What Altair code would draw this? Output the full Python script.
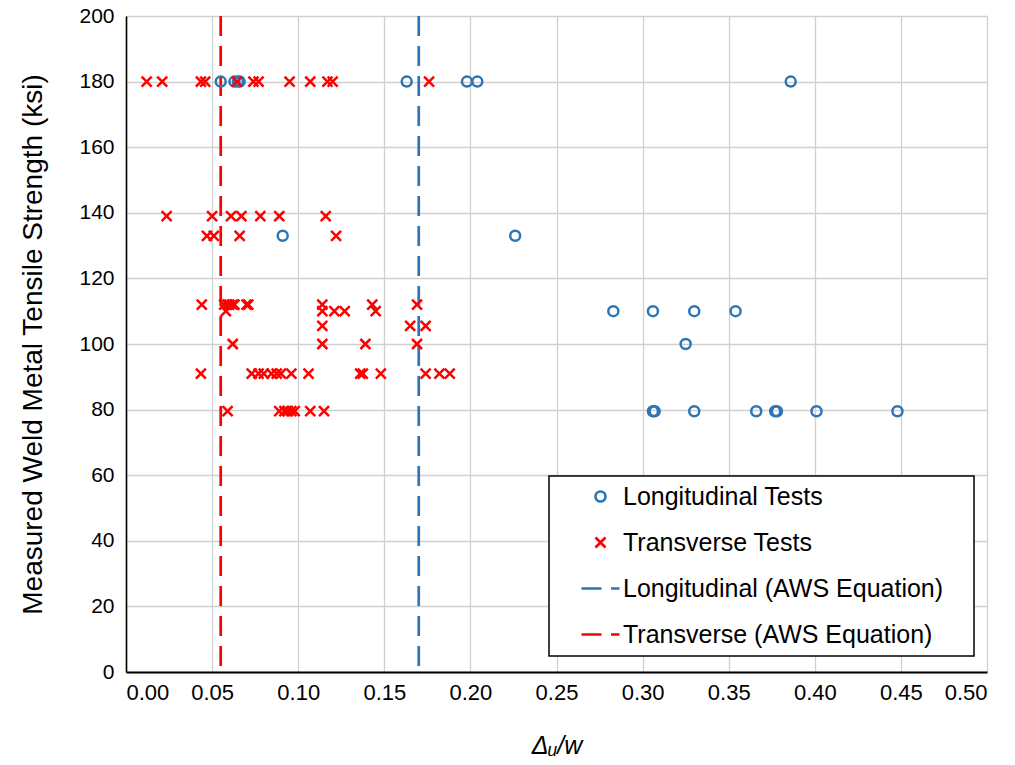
import altair as alt
import pandas as pd

# Longitudinal tests (blue open circles)
long_x = [0.055, 0.063, 0.065, 0.066, 0.163, 0.198, 0.204, 0.386,
          0.091, 0.226,
          0.283, 0.306, 0.330, 0.354,
          0.325,
          0.306, 0.307, 0.330, 0.366, 0.377, 0.378, 0.401, 0.448]
long_y = [180, 180, 180, 180, 180, 180, 180, 180,
          133, 133,
          110, 110, 110, 110,
          100,
          79.5, 79.5, 79.5, 79.5, 79.5, 79.5, 79.5, 79.5]

# Transverse tests (red crosses)
trans_x = [0.012, 0.021, 0.0435, 0.046, 0.0645, 0.074, 0.077, 0.095, 0.107, 0.117, 0.120, 0.176,
           0.0236, 0.050, 0.061, 0.067, 0.078, 0.089, 0.116,
           0.047, 0.051, 0.066, 0.122,
           0.044, 0.057, 0.059, 0.060, 0.062, 0.063, 0.070, 0.071, 0.114, 0.143, 0.169,
           0.058, 0.114, 0.121, 0.127, 0.145,
           0.114, 0.165, 0.174,
           0.062, 0.114, 0.139, 0.169,
           0.0435, 0.073, 0.077, 0.080, 0.0845, 0.0875, 0.090, 0.096, 0.106, 0.136, 0.1375, 0.148, 0.174, 0.182, 0.188,
           0.059, 0.089, 0.092, 0.094, 0.096, 0.098, 0.107, 0.115]
trans_y = [180] * 12 + [139] * 7 + [133] * 4 + [112] * 11 + [110] * 5 + [105.5] * 3 + [100] * 4 + [91] * 15 + [79.5] * 8

# AWS equation values
aws_series = ["Longitudinal (AWS Equation)", "Transverse (AWS Equation)"]
aws_x = [0.17, 0.055]
aws_color = ["#2e75b6", "#ff0000"]

series_names = ["Longitudinal Tests", "Transverse Tests",
                "Longitudinal (AWS Equation)", "Transverse (AWS Equation)"]
series_colors = ["#2e75b6", "#ff0000", "#2e75b6", "#ff0000"]
dash_path = "M-3.8,0H0.2M2.1,0H3.8"
series_shapes = ["circle", "M-1,-1L1,1M-1,1L1,-1", dash_path, dash_path]

x_ticks = [round(i * 0.05, 2) for i in range(11)]
y_ticks = list(range(0, 201, 20))

pts = pd.DataFrame({
    "x": long_x + trans_x,
    "y": long_y + trans_y,
    "series": ["Longitudinal Tests"] * len(long_x) + ["Transverse Tests"] * len(trans_x),
})
rules = pd.DataFrame({"x": aws_x, "series": aws_series, "color": aws_color})

FONT = "Liberation Sans"

xscale = alt.Scale(domain=[0, 0.5], nice=False, zero=False)
yscale = alt.Scale(domain=[0, 200], nice=False)

base_x_axis = alt.Axis(values=x_ticks, format=".2f", title="Δᵤ/w",
                       titleFontStyle="italic", titleFontWeight="normal",
                       titleFontSize=25, titlePadding=30, labelPadding=10,
                       labelFontSize=22,
                       domainColor="black", domainWidth=2, tickSize=0,
                       gridColor="#d0d0d0", gridWidth=1.3)
base_y_axis = alt.Axis(values=y_ticks, title="Measured Weld Metal Tensile Strength (ksi)",
                       titleFontSize=28, titleFontWeight="normal", titlePadding=31,
                       labelPadding=12, labelFontSize=21,
                       domainColor="black", domainWidth=1.6, tickSize=0,
                       gridColor="#d0d0d0", gridWidth=1.3)

legend_def = alt.Legend(title=" ", titleOrient="right", titlePadding=23,
                        orient="none", legendX=423, legendY=460,
                        padding=8, strokeColor="black",
                        fillColor="white",
                        symbolOffset=31, labelOffset=10,
                        labelFontSize=25, labelFont=FONT, labelColor="black",
                        rowPadding=20, symbolSize=100, symbolStrokeWidth=2.7,
                        labelLimit=500)

rule_layer = alt.Chart(rules).mark_rule(strokeDash=[20, 10], strokeWidth=2.7).encode(
    x=alt.X("x:Q", scale=xscale, axis=base_x_axis),
    color=alt.Color("color:N", scale=None),
)

point_layer = alt.Chart(pts).mark_point(filled=False, strokeWidth=2.5, size=100, opacity=1).encode(
    x=alt.X("x:Q", scale=xscale, axis=base_x_axis),
    y=alt.Y("y:Q", scale=yscale, axis=base_y_axis),
    color=alt.Color("series:N",
                    scale=alt.Scale(domain=series_names, range=series_colors),
                    legend=legend_def),
    shape=alt.Shape("series:N",
                    scale=alt.Scale(domain=series_names, range=series_shapes),
                    legend=legend_def),
)

chart = alt.layer(rule_layer, point_layer).properties(
    width=861, height=656,
    autosize=alt.AutoSizeParams(type="none"),
    padding={"left": 126, "top": 16, "right": 28, "bottom": 93},
).configure(
    font=FONT,
).configure_view(
    stroke=None,
).configure_axis(
    labelFont=FONT, titleFont=FONT, labelColor="black",
    titleColor="black",
).configure_legend(
    strokeWidth=1.5,
)

chart.save("out.html", embed_options={"renderer": "svg", "actions": False})
